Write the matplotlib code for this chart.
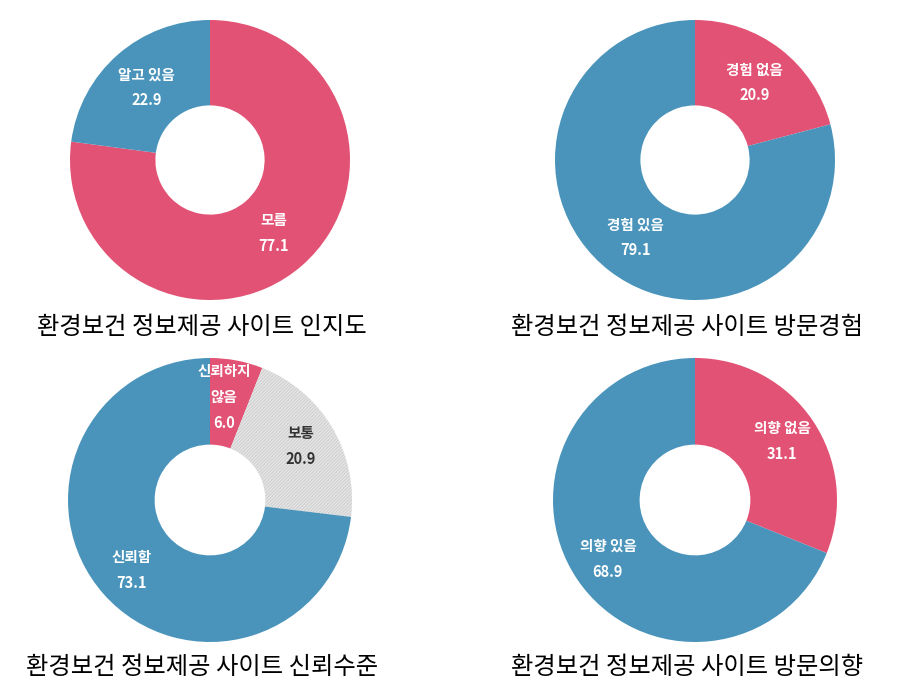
import numpy as np
import matplotlib.pyplot as plt

plt.rcParams['font.family'] = ['Noto Sans CJK KR', 'DejaVu Sans']
plt.rcParams['hatch.linewidth'] = 0.5

# chart data (clockwise from 12 o'clock)
titles = ["환경보건 정보제공 사이트 인지도", "환경보건 정보제공 사이트 방문경험",
          "환경보건 정보제공 사이트 신뢰수준", "환경보건 정보제공 사이트 방문의향"]
labels_1 = ["모름", "알고 있음"]
values_1 = [77.1, 22.9]
labels_2 = ["경험 없음", "경험 있음"]
values_2 = [20.9, 79.1]
labels_3 = ["신뢰하지\n않음", "보통", "신뢰함"]
values_3 = [6.0, 20.9, 73.1]
labels_4 = ["의향 없음", "의향 있음"]
values_4 = [31.1, 68.9]

PINK = "#E25274"
BLUE = "#4A94BB"
GRAY = "#D2D2D2"

colors_1 = [PINK, BLUE]
colors_2 = [PINK, BLUE]
colors_3 = [PINK, GRAY, BLUE]
colors_4 = [PINK, BLUE]

W, H = 906, 696
fig = plt.figure(figsize=(W / 100, H / 100), dpi=100)


def donut(cx, cy, r, labels, values, colors, title, label_r):
    ax = fig.add_axes([(cx - r) / W, (H - cy - r) / H, 2 * r / W, 2 * r / H])
    wedges, _ = ax.pie(values, colors=colors, startangle=90, counterclock=False,
                       radius=1, wedgeprops=dict(width=0.61, linewidth=0))
    total = sum(values)
    start = 90
    for w, lab, val, col in zip(wedges, labels, values, colors):
        mid = start - val / total * 360 / 2
        start -= val / total * 360
        txtcol = "white"
        if col == GRAY:
            w.set_hatch("//////////")
            w.set_edgecolor("#F2F2F2")
            txtcol = "#333333"
        x = label_r * np.cos(np.radians(mid))
        y = label_r * np.sin(np.radians(mid))
        if val < 10:
            # thin slice: keep the label inside it
            x -= 0.04
        ax.text(x, y, f"{lab}\n{val:.1f}", ha="center", va="center", color=txtcol,
                fontsize=10.5, fontweight="bold", linespacing=1.75, zorder=5)
    ax.set_xlim(-1, 1)
    ax.set_ylim(-1, 1)
    ax.axis("off")
    fig.text((cx - 8) / W, 1 - (cy + 167) / H, title, ha="center", va="center",
             fontsize=17.5, color="black")


donut(210, 160, 140, labels_1, values_1, colors_1, titles[0], 0.69)
donut(695, 160, 140, labels_2, values_2, colors_2, titles[1], 0.70)
donut(210, 500, 142, labels_3, values_3, colors_3, titles[2], 0.74)
donut(695, 500, 142, labels_4, values_4, colors_4, titles[3], 0.74)

fig.savefig("out.png", dpi=100)
